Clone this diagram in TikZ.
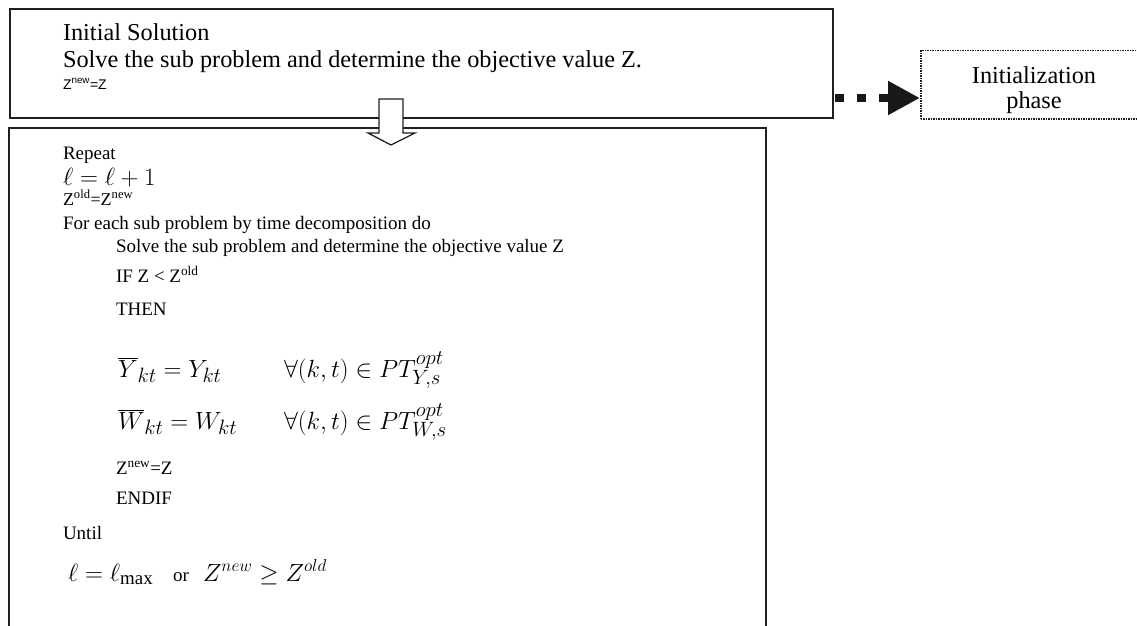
\documentclass[tikz,border=0pt]{standalone}
\usepackage{fontspec}
\setmainfont{Liberation Serif}
\newfontfamily\sansf{Liberation Sans}
\usetikzlibrary{arrows.meta}
\begin{document}
\begin{tikzpicture}[x=1pt,y=-1pt,line join=miter]
\tikzset{
  boxline/.style={draw=black!88, line width=1.8pt},
  txt/.style={anchor=base west, inner sep=0pt, outer sep=0pt},
  big/.style={font=\fontsize{24.3}{26}\selectfont},
  body/.style={font=\fontsize{19}{21}\selectfont},
  small/.style={font=\fontsize{18}{20}\selectfont},
  mathA/.style={font=\fontsize{27}{29}\selectfont},
  mathB/.style={font=\fontsize{32}{34}\selectfont},
  mathC/.style={font=\fontsize{27}{29}\selectfont},
  blockarrow/.style={draw=black!88, line width=1.3pt, fill=white},
  dotbox/.style={draw=black!88, densely dotted, line width=1.5pt, inner sep=0pt},
  dotarrow/.style={line width=8pt, black!90, dash pattern=on 9pt off 13pt,
    -{Triangle[length=32pt,width=32pt]}},
}
\useasboundingbox (0,0) rectangle (1137,626);

% top box
\node[boxline, minimum width=823pt, minimum height=109pt, inner sep=0pt, anchor=north west] (init) at (9,8) {};
\node[txt, big] (t1) at (63,41) {Initial Solution};
\node[txt, big] (t2) at (63,67) {Solve the sub problem and determine the objective value Z.};
\node[txt, font=\sansf\fontsize{14}{16}\selectfont] (t3) at (63,89) {Z\textsuperscript{new}=Z};

% loop box (open at the bottom)
\coordinate (lsw) at (9,640);
\coordinate (lnw) at (9,128);
\coordinate (lne) at (766,128);
\coordinate (lse) at (766,640);
\draw[boxline] (lsw) -- (lnw) -- (lne) -- (lse);

% block arrow from init box into loop box
\draw[blockarrow] (379,99) -- (403,99) -- (403,133) -- (415,133) -- (391,145) -- (368,133) -- (379,133) -- cycle;

% initialization phase box
\node[dotbox, minimum width=230pt, minimum height=68pt, anchor=north west] (phase) at (920,50) {};
\node[big, anchor=base, inner sep=0pt] (p1) at (1034,83) {Initialization};
\node[big, anchor=base, inner sep=0pt] (p2) at (1034,108) {phase};

% dotted arrow
\coordinate (da) at (835,98);
\coordinate (db) at (phase.west |- da);
\draw[dotarrow] (da) -- (db);

% loop text
\node[txt, body] (r1) at (63,159) {Repeat};
\node[txt, mathA] (r2) at (63,185) {$\ell = \ell +1$};
\node[txt, small] (r3) at (63,205) {Z\textsuperscript{old}=Z\textsuperscript{new}};
\node[txt, body] (r4) at (63,229) {For each sub problem by time decomposition do};
\node[txt, body] (r5) at (116,252) {Solve the sub problem and determine the objective value Z};
\node[txt, body] (r6) at (116,282) {IF Z < Z\textsuperscript{old}};
\node[txt, body] (r7) at (116,315) {THEN};
\node[txt, mathB] (r8) at (118,377) {$\overline{Y}_{kt} = Y_{kt}$};
\node[txt, mathB] (r8b) at (284,377) {$\forall (k,t) \in PT_{Y,s}^{opt}$};
\node[txt, mathB] (r9) at (118,429) {$\overline{W}_{kt} = W_{kt}$};
\node[txt, mathB] (r9b) at (284,429) {$\forall (k,t) \in PT_{W,s}^{opt}$};
\node[txt, body] (r10) at (116,474) {Z\textsuperscript{new}=Z};
\node[txt, body] (r11) at (116,504) {ENDIF};
\node[txt, body] (r12) at (63,539) {Until};
\node[txt, mathC] (r13) at (68,581) {$\ell = \ell_{\max}$};
\node[txt, body] (r14) at (173,581) {or};
\node[txt, mathC] (r15) at (203,581) {$Z^{new} \ge Z^{old}$};
\end{tikzpicture}
\end{document}
